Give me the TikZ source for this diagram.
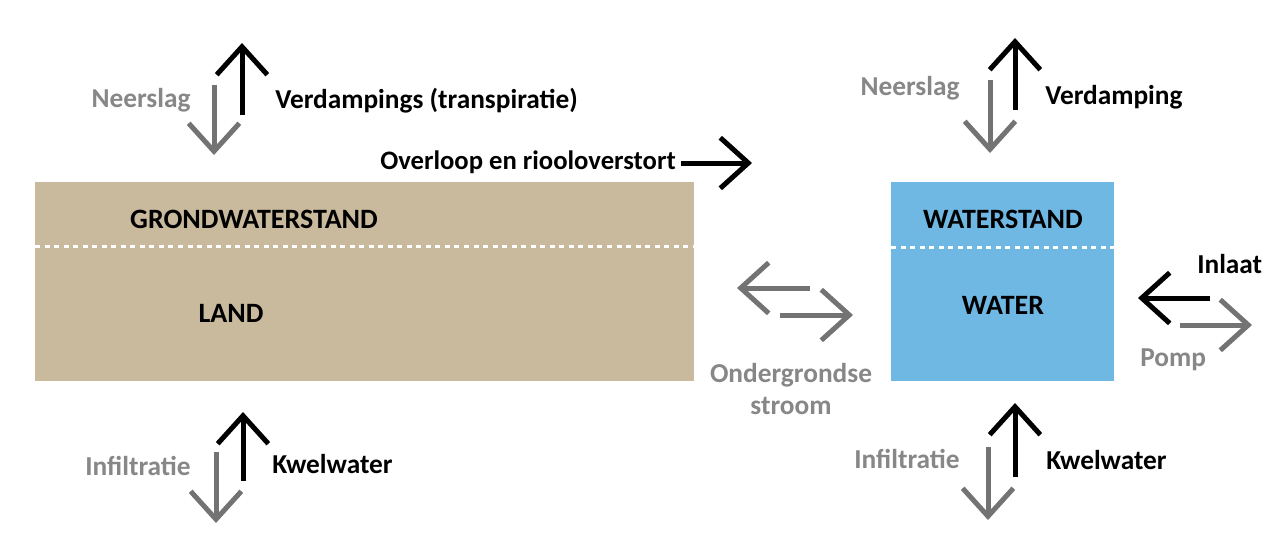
\documentclass[tikz,border=0pt]{standalone}
\usepackage{fontspec}
\setmainfont{Carlito}
\usetikzlibrary{arrows.meta}
\definecolor{land}{HTML}{C9BA9E}
\definecolor{wat}{HTML}{6FB8E4}
\definecolor{agrey}{HTML}{737373}
\definecolor{tgrey}{HTML}{878787}
\tikzset{
  flow/.style={line width=3.75pt, line cap=butt, -{Straight Barb[length=21pt,width=38pt,line join=miter]}},
  blk/.style={flow, draw=black},
  gry/.style={flow, draw=agrey},
  lbl/.style={font=\fontsize{20.5}{22}\selectfont\bfseries, inner sep=0pt},
  glbl/.style={lbl, text=tgrey},
  boxlbl/.style={font=\fontsize{21}{22}\selectfont\bfseries, inner sep=0pt},
  level/.style={draw=white, line width=2pt, dash pattern=on 3.75pt off 3.4pt},
}
\begin{document}
\begin{tikzpicture}[x=0.75pt,y=-0.75pt]
\useasboundingbox[fill=white] (0,0) rectangle (1288,557);
% boxes
\fill[land] (35,182) rectangle (694,381);
\draw[level] (35,246.5) -- (694,246.5);
\fill[wat] (891,182) rectangle (1114,381);
\draw[level] (891,247.5) -- (1114,247.5);
\node[boxlbl] (gws) at (254,219) {GRONDWATERSTAND};
\node[boxlbl] (land) at (231,313) {LAND};
\node[boxlbl] (ws) at (1003,219) {WATERSTAND};
\node[boxlbl] (water) at (1003,305) {WATER};
% labels
\node[glbl] (neer1) at (141,100) {Neerslag};
\node[lbl, anchor=west] (verd1) at (275,101) {Verdampings (transpiratie)};
\node[lbl, anchor=east, font=\fontsize{20}{22}\selectfont\bfseries] (over) at (676,162) {Overloop en riooloverstort};
\node[glbl, align=center, font=\fontsize{20.5}{24}\selectfont\bfseries] (onder) at (791,389) {Ondergrondse\\stroom};
\node[glbl] (neer2) at (910,88) {Neerslag};
\node[lbl, anchor=west] (verd2) at (1045,97) {Verdamping};
\node[lbl, anchor=west] (inlaat) at (1197,264) {Inlaat};
\node[glbl, anchor=west] (pomp) at (1140,360) {Pomp};
\node[glbl] (inf1) at (138,466) {Infiltratie};
\node[lbl, anchor=west] (kwel1) at (272,464) {Kwelwater};
\node[glbl] (inf2) at (907,459) {Infiltratie};
\node[lbl, anchor=west] (kwel2) at (1046,460) {Kwelwater};
% arrow end points
\coordinate (a1s) at (242,115); \coordinate (a1e) at (242,43);
\coordinate (a2s) at (214,85);  \coordinate (a2e) at (214,155);
\coordinate (a3s) at (681,163); \coordinate (a3e) at (752,163);
\coordinate (a4s) at (810,288); \coordinate (a4e) at (737,288);
\coordinate (a5s) at (780,315); \coordinate (a5e) at (853,315);
\coordinate (a6s) at (1015,110); \coordinate (a6e) at (1015,38);
\coordinate (a7s) at (990,80); \coordinate (a7e) at (990,153);
\coordinate (a8s) at (1210,298); \coordinate (a8e) at (1138,298);
\coordinate (a9s) at (1180,325); \coordinate (a9e) at (1252,325);
\coordinate (b1s) at (243,481); \coordinate (b1e) at (243,412);
\coordinate (b2s) at (216,452); \coordinate (b2e) at (216,523);
\coordinate (b3s) at (1015,477); \coordinate (b3e) at (1015,403);
\coordinate (b4s) at (988,447); \coordinate (b4e) at (988,520);
% arrows
\draw[blk] (a1s) -- (a1e);
\draw[gry] (a2s) -- (a2e);
\draw[blk] (a3s) -- (a3e);
\draw[gry] (a4s) -- (a4e);
\draw[gry] (a5s) -- (a5e);
\draw[blk] (a6s) -- (a6e);
\draw[gry] (a7s) -- (a7e);
\draw[blk] (a8s) -- (a8e);
\draw[gry] (a9s) -- (a9e);
\draw[blk] (b1s) -- (b1e);
\draw[gry] (b2s) -- (b2e);
\draw[blk] (b3s) -- (b3e);
\draw[gry] (b4s) -- (b4e);
\end{tikzpicture}
\end{document}
